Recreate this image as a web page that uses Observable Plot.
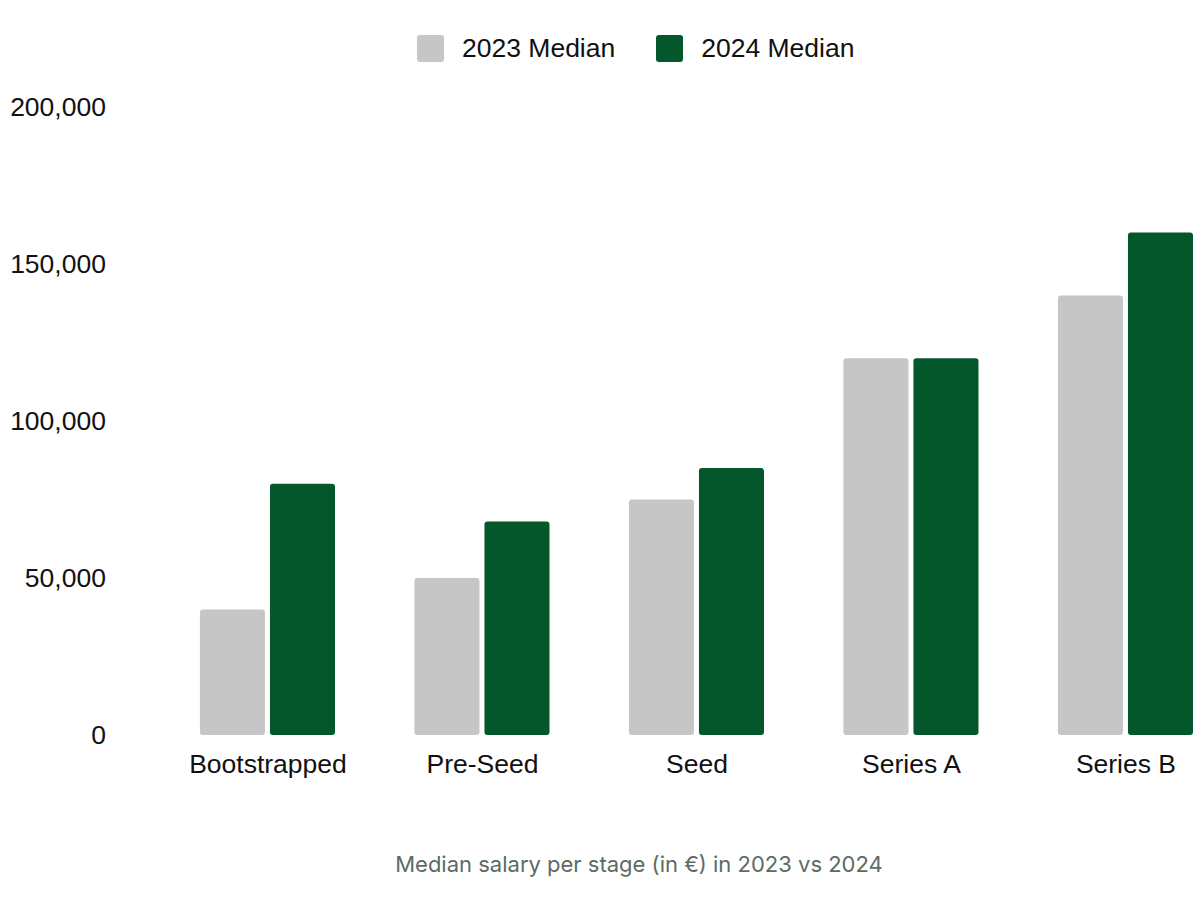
<!DOCTYPE html>
<html>
<head>
<meta charset="utf-8">
<script src="https://cdn.jsdelivr.net/npm/d3@7"></script>
<script src="https://cdn.jsdelivr.net/npm/@observablehq/plot@0.6"></script>
<style>
  html, body { margin: 0; padding: 0; background: #fff; }
  #page { width: 1200px; height: 907px; position: relative; overflow: hidden; }
  #legend { height: 90px; box-sizing: border-box; padding-top: 35px; padding-left: 417px;
            display: flex; align-items: flex-start; font-family: "Liberation Sans", Arial, sans-serif;
            font-size: 26.5px; color: #111; }
  #legend .item { display: flex; align-items: center; height: 27px; }
  #legend .sw { width: 27px; height: 27px; border-radius: 3px; margin-right: 18px; }
  #legend .item + .item { margin-left: 41px; }
  #chart svg { display: block; }
  #caption { width: 1200px; box-sizing: border-box; padding-left: 78px; text-align: center;
             margin-top: 40px; font-family: Inter, "Noto Sans", sans-serif; font-size: 22px;
             line-height: 28px; color: #5b6b66; }
</style>
</head>
<body>
<div id="page">
  <div id="legend"></div>
  <div id="chart"></div>
  <div id="caption">Median salary per stage (in €) in 2023 vs 2024</div>
</div>
<script>
const stages = ["Bootstrapped", "Pre-Seed", "Seed", "Series A", "Series B"];
const years = ["2023", "2024"];
const seriesLabels = ["2023 Median", "2024 Median"];
const median2023 = [40000, 50000, 75000, 120000, 140000];
const median2024 = [80000, 68000, 85000, 120000, 160000];
const yTicks = [0, 50000, 100000, 150000, 200000];
const colors = ["#c6c6c6", "#04572b"];

const data = [];
stages.forEach((s, i) => {
  data.push({stage: s, year: years[0], value: median2023[i]});
  data.push({stage: s, year: years[1], value: median2024[i]});
});

// legend
const legend = document.getElementById("legend");
seriesLabels.forEach((lab, i) => {
  const it = document.createElement("div");
  it.className = "item";
  const sw = document.createElement("div");
  sw.className = "sw";
  sw.style.background = colors[i];
  const tx = document.createElement("span");
  tx.textContent = lab;
  it.appendChild(sw);
  it.appendChild(tx);
  legend.appendChild(it);
});

const chart = Plot.plot({
  width: 1200,
  height: 720,
  marginTop: 17,
  marginBottom: 75,
  marginLeft: 120,
  marginRight: 0,
  style: {fontFamily: "'Liberation Sans', Arial, sans-serif", fontSize: "26.5px", color: "#111", background: "white", overflow: "visible"},
  fx: {domain: stages, paddingInner: 0.347, paddingOuter: 0.191, align: 0.945, round: false, label: null, axis: "bottom", tickSize: 0, tickPadding: 19},
  x: {domain: years, paddingInner: 0.0714, paddingOuter: 0.0357, round: false, axis: null},
  y: {domain: [0, 200000], ticks: yTicks, tickFormat: d3.format(","), tickSize: 0, tickPadding: 92, label: null},
  color: {domain: years, range: colors},
  marks: [
    Plot.barY(data, {fx: "stage", x: "year", y: "value", fill: "year", rx: 3})
  ]
});
document.getElementById("chart").appendChild(chart);
</script>
</body>
</html>
